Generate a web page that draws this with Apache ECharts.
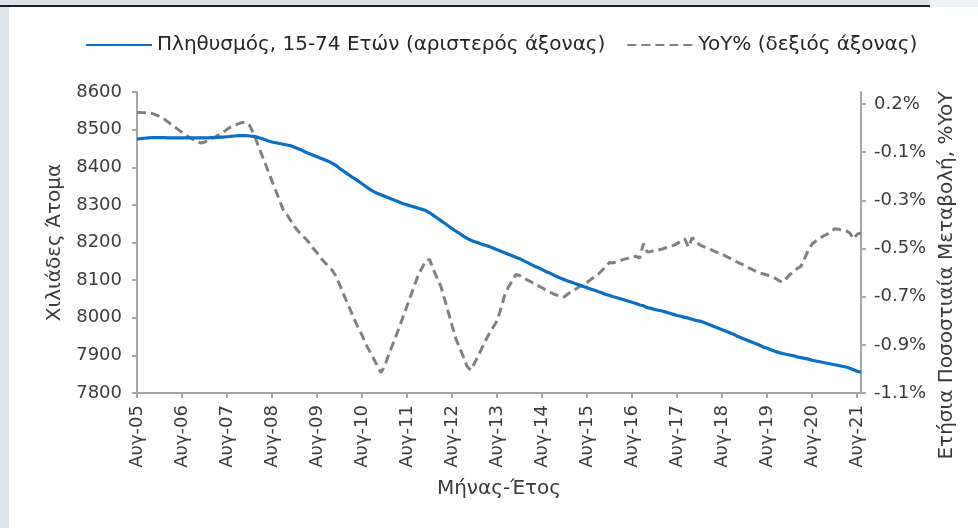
<!DOCTYPE html>
<html>
<head>
<meta charset="utf-8">
<script src="https://cdn.jsdelivr.net/npm/echarts@6/dist/echarts.min.js"></script>
<style>
  html, body { margin: 0; padding: 0; background: #fff; }
  #chart { width: 978px; height: 528px; }
</style>
</head>
<body>
<div id="chart"></div>
<script>
// μήνες Αυγ-05 ... Σεπ-21
var monthNames = ['Ιαν', 'Φεβ', 'Μαρ', 'Απρ', 'Μαϊ', 'Ιουν', 'Ιουλ', 'Αυγ', 'Σεπ', 'Οκτ', 'Νοε', 'Δεκ'];
var months = [];
for (var k = 0; k < 194; k++) {
    var m = (7 + k) % 12;
    var y = 5 + Math.floor((7 + k) / 12);
    months.push(monthNames[m] + '-' + (y < 10 ? '0' + y : '' + y));
}

// Πληθυσμός 15-74 (χιλιάδες)
var population = [
    8475, 8476, 8477, 8478, 8479, 8479, 8479, 8479, 8478, 8478, 8478, 8478,
    8478, 8478, 8478, 8478, 8478, 8478, 8478, 8478, 8479, 8479, 8480, 8480,
    8481, 8482, 8483, 8484, 8484, 8484, 8483, 8482, 8480, 8477, 8474, 8470,
    8467, 8465, 8463, 8461, 8459, 8457, 8453, 8449, 8445, 8440, 8436, 8432,
    8428, 8424, 8420, 8416, 8411, 8405, 8397, 8390, 8383, 8376, 8370, 8363,
    8356, 8349, 8342, 8336, 8331, 8327, 8323, 8319, 8315, 8311, 8307, 8303,
    8300, 8297, 8294, 8291, 8288, 8285, 8279, 8272, 8265, 8258, 8251, 8244,
    8237, 8230, 8224, 8217, 8211, 8206, 8202, 8199, 8195, 8192, 8189, 8185,
    8181, 8177, 8173, 8169, 8165, 8161, 8157, 8152, 8147, 8142, 8137, 8133,
    8128, 8123, 8119, 8114, 8109, 8105, 8101, 8097, 8094, 8090, 8087, 8083,
    8080, 8076, 8073, 8069, 8066, 8062, 8059, 8056, 8053, 8050, 8047, 8044,
    8041, 8038, 8034, 8032, 8027, 8025, 8022, 8020, 8018, 8015, 8012, 8009,
    8006, 8004, 8001, 7999, 7996, 7993, 7991, 7988, 7984, 7980, 7976, 7972,
    7968, 7964, 7960, 7956, 7951, 7947, 7943, 7939, 7935, 7931, 7927, 7922,
    7919, 7915, 7911, 7908, 7905, 7903, 7901, 7899, 7896, 7894, 7892, 7890,
    7887, 7885, 7883, 7881, 7879, 7877, 7875, 7873, 7871, 7869, 7866, 7862,
    7858, 7855
];

// Ετήσια μεταβολή %
var yoy = [
    0.115, 0.115, 0.114, 0.113, 0.111, 0.105, 0.098, 0.090, 0.079, 0.067, 0.056, 0.044,
    0.032, 0.021, 0.011, 0.003, -0.005, -0.012, -0.008, 0.000, 0.008, 0.015, 0.024, 0.033,
    0.045, 0.055, 0.062, 0.068, 0.073, 0.073, 0.062, 0.030, -0.010, -0.050, -0.090, -0.130,
    -0.170, -0.210, -0.250, -0.290, -0.310, -0.335, -0.360, -0.378, -0.395, -0.410, -0.428, -0.450,
    -0.468, -0.490, -0.507, -0.524, -0.540, -0.563, -0.600, -0.637, -0.673, -0.710, -0.746, -0.780,
    -0.810, -0.847, -0.876, -0.905, -0.935, -0.965, -0.940, -0.895, -0.855, -0.815, -0.773, -0.730,
    -0.688, -0.645, -0.602, -0.559, -0.530, -0.500, -0.495, -0.537, -0.573, -0.607, -0.660, -0.715,
    -0.770, -0.825, -0.862, -0.900, -0.940, -0.955, -0.925, -0.895, -0.862, -0.830, -0.800, -0.775,
    -0.750, -0.700, -0.645, -0.610, -0.585, -0.558, -0.562, -0.572, -0.580, -0.588, -0.597, -0.605,
    -0.613, -0.622, -0.631, -0.638, -0.645, -0.652, -0.650, -0.637, -0.627, -0.618, -0.608, -0.600,
    -0.590, -0.578, -0.567, -0.556, -0.540, -0.522, -0.508, -0.510, -0.503, -0.499, -0.494, -0.490,
    -0.484, -0.482, -0.490, -0.430, -0.465, -0.462, -0.458, -0.456, -0.452, -0.447, -0.442, -0.437,
    -0.430, -0.418, -0.410, -0.445, -0.405, -0.420, -0.435, -0.442, -0.448, -0.455, -0.462, -0.468,
    -0.474, -0.482, -0.490, -0.498, -0.506, -0.514, -0.520, -0.530, -0.537, -0.545, -0.552, -0.556,
    -0.560, -0.566, -0.572, -0.582, -0.590, -0.575, -0.559, -0.545, -0.533, -0.524, -0.490, -0.455,
    -0.430, -0.418, -0.408, -0.398, -0.390, -0.378, -0.368, -0.370, -0.374, -0.377, -0.385, -0.410,
    -0.390, -0.385
];

// δεξιός άξονας: θέσεις και ετικέτες
var yoyTicks = [-1.05, -0.85, -0.65, -0.45, -0.25, -0.05, 0.15];
var yoyTickLabels = ['-1.1%', '-0.9%', '-0.7%', '-0.5%', '-0.3%', '-0.1%', '0.2%'];

var FONT = 'DejaVu Sans';
var TXT = '#3b3b3b';
var AX = '#a6a6a6';

var myChart = echarts.init(document.getElementById('chart'), null, { renderer: 'canvas' });

var option = {
    animation: false,
    backgroundColor: '#ffffff',
    textStyle: { fontFamily: FONT, color: TXT },
    graphic: [
        { type: 'rect', shape: { x: 0, y: 0, width: 930, height: 5 }, style: { fill: '#dde3ea' } },
        { type: 'rect', shape: { x: 930, y: 0, width: 48, height: 7 }, style: { fill: '#edf1f6' } },
        { type: 'rect', shape: { x: 0, y: 5, width: 930, height: 2 }, style: { fill: '#1e1e1e' } },
        { type: 'rect', shape: { x: 0, y: 7, width: 9, height: 521 }, style: { fill: '#dfe4ea' } }
    ],
    legend: {
        left: 80,
        top: 30,
        itemWidth: 66,
        itemHeight: 14,
        itemGap: 21,
        itemStyle: { opacity: 0 },
        textStyle: { fontFamily: FONT, fontSize: 20, color: '#262626' },
        data: ['Πληθυσμός, 15-74 Ετών (αριστερός άξονας)', 'YoY% (δεξιός άξονας)']
    },
    grid: { left: 137, right: 117, top: 92, bottom: 135, containLabel: false },
    xAxis: {
        type: 'category',
        boundaryGap: false,
        data: months,
        name: 'Μήνας-Έτος',
        nameLocation: 'middle',
        nameGap: 86,
        nameTextStyle: { fontFamily: FONT, fontSize: 20, color: TXT },
        axisLine: { onZero: false, lineStyle: { color: AX, width: 2 } },
        axisTick: { interval: 11, length: 5, lineStyle: { color: AX, width: 2 } },
        axisLabel: { interval: 11, rotate: 90, margin: 12, fontSize: 18, color: TXT, fontFamily: FONT },
        splitLine: { show: false }
    },
    yAxis: [{
        type: 'value',
        min: 7800,
        max: 8600,
        interval: 100,
        position: 'left',
        name: 'Χιλιάδες Άτομα',
        nameLocation: 'middle',
        nameGap: 72,
        nameTextStyle: { fontFamily: FONT, fontSize: 20, color: TXT },
        axisLine: { show: true, lineStyle: { color: AX, width: 2 } },
        axisTick: { show: true, length: 5, lineStyle: { color: AX, width: 2 } },
        axisLabel: {
            margin: 15, fontSize: 18, color: TXT, fontFamily: FONT,
            formatter: function (v) { return String(v); }
        },
        splitLine: { show: false }
    }, {
        type: 'value',
        min: -1.05,
        max: 0.2,
        position: 'right',
        name: 'Ετήσια Ποσοστιαία Μεταβολή, %YoY',
        nameLocation: 'middle',
        nameGap: 76,
        nameTextStyle: { fontFamily: FONT, fontSize: 20, color: TXT, padding: [0, 66, 0, 0] },
        axisLine: { show: true, lineStyle: { color: AX, width: 2 } },
        axisTick: { show: true, length: 5, customValues: yoyTicks, lineStyle: { color: AX, width: 2 } },
        axisLabel: {
            margin: 13,
            fontSize: 18,
            color: TXT,
            fontFamily: FONT,
            customValues: yoyTicks,
            formatter: function (v) {
                for (var j = 0; j < yoyTicks.length; j++) {
                    if (Math.abs(yoyTicks[j] - v) < 1e-6) return yoyTickLabels[j];
                }
                return '';
            }
        },
        splitLine: { show: false }
    }],
    series: [{
        name: 'Πληθυσμός, 15-74 Ετών (αριστερός άξονας)',
        type: 'line',
        yAxisIndex: 0,
        data: population,
        symbol: 'none',
        lineStyle: { color: '#0a70c4', width: 3.2 },
        itemStyle: { color: '#0a70c4' },
        z: 3
    }, {
        name: 'YoY% (δεξιός άξονας)',
        type: 'line',
        yAxisIndex: 1,
        data: yoy,
        symbol: 'none',
        lineStyle: { color: '#808080', width: 3, type: [9, 5] },
        itemStyle: { color: '#808080' },
        z: 2
    }]
};

myChart.setOption(option);
</script>
</body>
</html>
